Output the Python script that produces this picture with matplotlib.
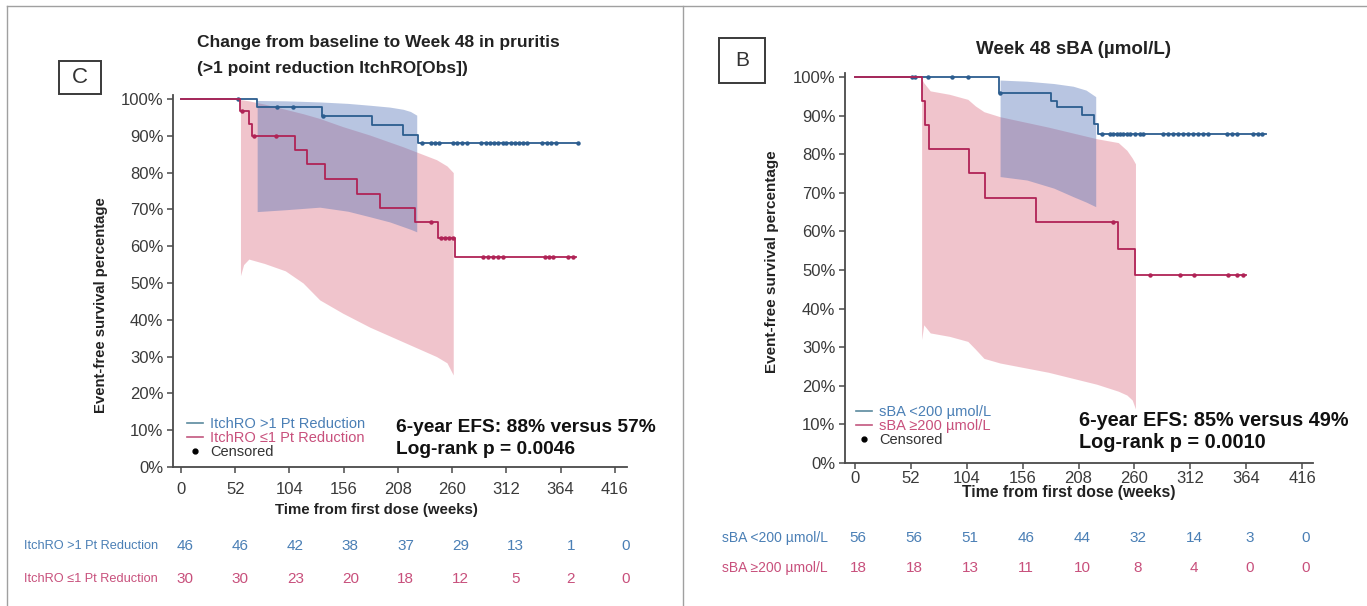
import matplotlib.pyplot as plt
import matplotlib.transforms as mtransforms
from matplotlib.lines import Line2D
from matplotlib.patches import Rectangle
import numpy as np

plt.rcParams['font.family'] = ['Liberation Sans', 'DejaVu Sans']

W, H = 1367, 606

week_ticks = [0, 52, 104, 156, 208, 260, 312, 364, 416]
pct_ticks = [0, 10, 20, 30, 40, 50, 60, 70, 80, 90, 100]

# ---- panel C: ItchRO response ----
c_hi_t = [0, 73, 135, 183, 213, 227, 382]
c_hi_s = [100, 97.8, 95.5, 92.9, 90.2, 88.0, 88.0]
c_hi_cens = [55, 92, 107, 136, 231, 240, 243.5, 247.6, 261, 265, 269, 274,
             288, 292.5, 296, 300, 304, 308.5, 312, 316, 320, 324, 328, 331.5,
             346, 350.5, 355, 360, 381]
c_lo_t = [0, 57, 65, 68, 109, 121, 138, 169, 191, 224, 246, 263, 379]
c_lo_s = [100, 96.7, 93.3, 90.0, 86.1, 82.2, 78.3, 74.3, 70.4, 66.5, 62.1, 57.0, 57.0]
c_lo_cens = [58, 70, 91, 240, 249, 253, 257, 261, 289.5, 294, 299, 304, 309,
             349, 353, 357, 371, 376]

c_hi_band_t = [73, 100, 133, 160, 181, 200, 213, 220, 226]
c_hi_band_lo = [69.4, 69.9, 70.6, 69.5, 68.0, 66.6, 65.3, 64.6, 63.9]
c_hi_band_hi = [99.6, 99.5, 99.2, 98.8, 98.3, 97.8, 97.2, 96.6, 95.6]
c_lo_band_t = [57, 60, 65, 80, 100, 117, 133, 155, 181, 213, 245, 255, 261]
c_lo_band_lo = [52.0, 55.0, 56.5, 55.3, 53.3, 50.0, 45.4, 41.8, 38.0, 34.0, 30.0, 28.3, 25.0]
c_lo_band_hi = [99.8, 99.7, 99.5, 98.6, 97.2, 96.0, 94.7, 92.5, 90.2, 87.0, 83.5, 81.8, 80.0]

c_risk_hi = [46, 46, 42, 38, 37, 29, 13, 1, 0]
c_risk_lo = [30, 30, 23, 20, 18, 12, 5, 2, 0]

# ---- panel B: week 48 sBA ----
b_hi_t = [0, 134, 182, 188, 211, 222, 226, 382]
b_hi_s = [100, 95.8, 93.9, 92.1, 90.2, 87.7, 85.3, 85.3]
b_hi_cens = [53, 56, 68, 90, 105.5, 135, 229.6, 237.3, 240.4, 243.5, 246.6,
             249.7, 252.8, 256, 260.6, 265.3, 268.3, 287, 291.6, 296.2, 300.9,
             305.6, 310.2, 314.9, 319.5, 324.2, 328.8, 346, 350.6, 355.3,
             370.7, 375.4, 378.5]
b_lo_t = [0, 62, 65, 69, 106, 121, 168, 245, 261, 364]
b_lo_s = [100, 93.75, 87.5, 81.25, 75.0, 68.75, 62.5, 55.56, 48.6, 48.6]
b_lo_cens = [240, 274.5, 302.5, 315, 347.4, 355.2, 361.4]

b_hi_band_t = [135, 160, 185, 203, 215, 224]
b_hi_band_lo = [74.2, 73.3, 71.2, 69.0, 67.6, 66.4]
b_hi_band_hi = [99.2, 98.9, 98.3, 97.6, 96.6, 94.9]
b_lo_band_t = [62, 64, 70, 88, 105, 112, 120, 135, 180, 225, 245, 253, 258, 261]
b_lo_band_lo = [32.0, 35.8, 33.7, 32.8, 31.5, 29.5, 27.1, 25.9, 23.5, 20.4, 18.6, 17.6, 16.3, 14.0]
b_lo_band_hi = [99.5, 98.5, 96.4, 95.5, 94.2, 92.5, 91.0, 89.7, 87.0, 84.0, 83.0, 81.0, 79.0, 77.5]

b_risk_hi = [56, 56, 51, 46, 44, 32, 14, 3, 0]
b_risk_lo = [18, 18, 13, 11, 10, 8, 4, 0, 0]

BLUE_LINE = '#2c5d8f'
RED_LINE = '#b02356'
BLUE_BAND = '#4f6fb5'
RED_BAND = '#e38a9b'
BLUE_TXT = '#4a7fb5'
RED_TXT = '#c8507c'
AXIS_COL = '#4a4a4a'


def fx(px):
    return px / W


def fy(py):
    return 1 - py / H


def step_value(t, s, when):
    idx = np.searchsorted(t, when, side='right') - 1
    return np.asarray(s)[idx]


def km_panel(ax, xlim, curves, bands, xpad):
    for bt, lo, hi, col, a in bands:
        ax.fill_between(bt, lo, hi, color=col, alpha=a, lw=0)
    for t, s, cens, col in curves:
        ax.step(t, s, where='post', color=col, lw=1.3)
        ax.plot(cens, step_value(t, s, cens), 'o', ms=3.2, color=col, mew=0)
    ax.set_xlim(*xlim)
    ax.set_ylim(0, 101)
    ax.set_xticks(week_ticks)
    ax.set_yticks(pct_ticks)
    ax.set_yticklabels([f'{v}%' for v in pct_ticks])
    for side in ('top', 'right'):
        ax.spines[side].set_visible(False)
    for side in ('left', 'bottom'):
        ax.spines[side].set_color(AXIS_COL)
        ax.spines[side].set_linewidth(1.3)
    ax.tick_params(direction='out', length=4, width=1.1, color=AXIS_COL,
                   labelsize=12, labelcolor='#3a3a3a')
    ax.tick_params(axis='x', pad=xpad)
    ax.tick_params(axis='y', pad=3)
    ax.patch.set_alpha(0)


def km_legend(ax, labels, anchor):
    handles = [Line2D([], [], color='#5b8a9e', lw=1.2),
               Line2D([], [], color='#c2577f', lw=1.2),
               Line2D([], [], marker='o', ls='', color='black', ms=3.5)]
    leg = ax.legend(handles, labels, loc='lower left', bbox_to_anchor=anchor,
                    frameon=False, fontsize=10.5, handlelength=1.1,
                    handletextpad=0.5, labelspacing=0.0, borderpad=0,
                    borderaxespad=0)
    for txt, col in zip(leg.get_texts(), [BLUE_TXT, RED_TXT, '#333333']):
        txt.set_color(col)


fig = plt.figure(figsize=(W / 100, H / 100), dpi=100)

# outer frame of the two panels
for xs, ys in [((7, W), (6, 6)), ((7, 7), (6, H)), ((683, 683), (6, H))]:
    fig.add_artist(Line2D([fx(x) for x in xs], [fy(y) for y in ys],
                          transform=fig.transFigure, color='#a0a0a0', lw=1))

# panel C
ax1 = fig.add_axes([fx(173), fy(467), (627 - 173) / W, (467 - 95.3) / H])
km_panel(ax1, (-7.7, 427.6),
         [(c_hi_t, c_hi_s, c_hi_cens, BLUE_LINE),
          (c_lo_t, c_lo_s, c_lo_cens, RED_LINE)],
         [(c_lo_band_t, c_lo_band_lo, c_lo_band_hi, RED_BAND, 0.5),
          (c_hi_band_t, c_hi_band_lo, c_hi_band_hi, BLUE_BAND, 0.4)], 7)
km_legend(ax1, ['ItchRO >1 Pt Reduction', 'ItchRO \u22641 Pt Reduction', 'Censored'],
          (0.031, 0.022))

# panel B
ax2 = fig.add_axes([fx(845), fy(463), (1313 - 845) / W, (463 - 73.1) / H])
km_panel(ax2, (-9.3, 426.2),
         [(b_hi_t, b_hi_s, b_hi_cens, BLUE_LINE),
          (b_lo_t, b_lo_s, b_lo_cens, RED_LINE)],
         [(b_lo_band_t, b_lo_band_lo, b_lo_band_hi, RED_BAND, 0.5),
          (b_hi_band_t, b_hi_band_lo, b_hi_band_hi, BLUE_BAND, 0.4)], 2)
km_legend(ax2, ['sBA <200 \u00b5mol/L', 'sBA \u2265200 \u00b5mol/L', 'Censored'],
          (0.0235, 0.042))

# panel letters
for (x0, y0, x1, y1), letter, fs in [((59, 61, 101, 94), 'C', 16),
                                     ((719, 38, 765, 83), 'B', 15)]:
    fig.add_artist(Rectangle((fx(x0), fy(y1)), (x1 - x0) / W, (y1 - y0) / H,
                             transform=fig.transFigure, fill=False,
                             ec='#3a3a3a', lw=1.4))
    fig.text(fx((x0 + x1) / 2), fy((y0 + y1) / 2), letter, fontsize=fs,
             color='#333333', ha='center', va='center')

# titles
fig.text(fx(197), fy(43), 'Change from baseline to Week 48 in pruritis',
         fontsize=12.5, fontweight='bold', va='center', color='#222222')
fig.text(fx(197), fy(68), '(>1 point reduction ItchRO[Obs])',
         fontsize=12.5, fontweight='bold', va='center', color='#222222')
fig.text(fx(1074), fy(50), 'Week 48 sBA (\u00b5mol/L)', fontsize=13.5,
         fontweight='bold', ha='center', va='center', color='#222222')

# axis labels
for x, y, fs in [(101, 305, 10.7), (772, 262, 11)]:
    fig.text(fx(x), fy(y), 'Event-free survival percentage', rotation=90,
             fontsize=fs, fontweight='bold', ha='center', va='center',
             color='#222222')
for x, y, fs in [(376, 510, 10.8), (1069, 493, 11.3)]:
    fig.text(fx(x), fy(y), 'Time from first dose (weeks)', fontsize=fs,
             fontweight='bold', ha='center', va='center', color='#222222')

# EFS summaries
for x, y, fs, l1, l2 in [(396, 427, 13.8, '6-year EFS: 88% versus 57%', 'Log-rank p = 0.0046'),
                         (1079, 420, 14.3, '6-year EFS: 85% versus 49%', 'Log-rank p = 0.0010')]:
    fig.text(fx(x), fy(y), l1, fontsize=fs, fontweight='bold', va='center',
             color='#111111')
    fig.text(fx(x), fy(y + 23), l2, fontsize=fs, fontweight='bold', va='center',
             color='#111111')

# numbers at risk
risk_c = fig.add_axes([fx(185), 0, (626 - 185) / W, 0.01])
risk_c.set_xlim(0, 416)
risk_c.axis('off')
risk_b = fig.add_axes([fx(858), 0, (1306 - 858) / W, 0.01])
risk_b.set_xlim(0, 416)
risk_b.axis('off')

tables = [
    (risk_c, 24, 9.2, [('ItchRO >1 Pt Reduction', c_risk_hi, 546, BLUE_TXT),
                       ('ItchRO \u22641 Pt Reduction', c_risk_lo, 579, RED_TXT)]),
    (risk_b, 722, 10, [('sBA <200 \u00b5mol/L', b_risk_hi, 538, BLUE_TXT),
                       ('sBA \u2265200 \u00b5mol/L', b_risk_lo, 568, RED_TXT)]),
]
for rax, lab_x, lab_fs, rows in tables:
    trans = mtransforms.blended_transform_factory(rax.transData, fig.transFigure)
    for label, counts, y, col in rows:
        fig.text(fx(lab_x), fy(y), label, fontsize=lab_fs, color=col, va='center')
        for wk, n in zip(week_ticks, counts):
            rax.text(wk, fy(y), str(n), transform=trans, fontsize=11, color=col,
                     ha='center', va='center', clip_on=False)

fig.savefig('out.png', dpi=100)
